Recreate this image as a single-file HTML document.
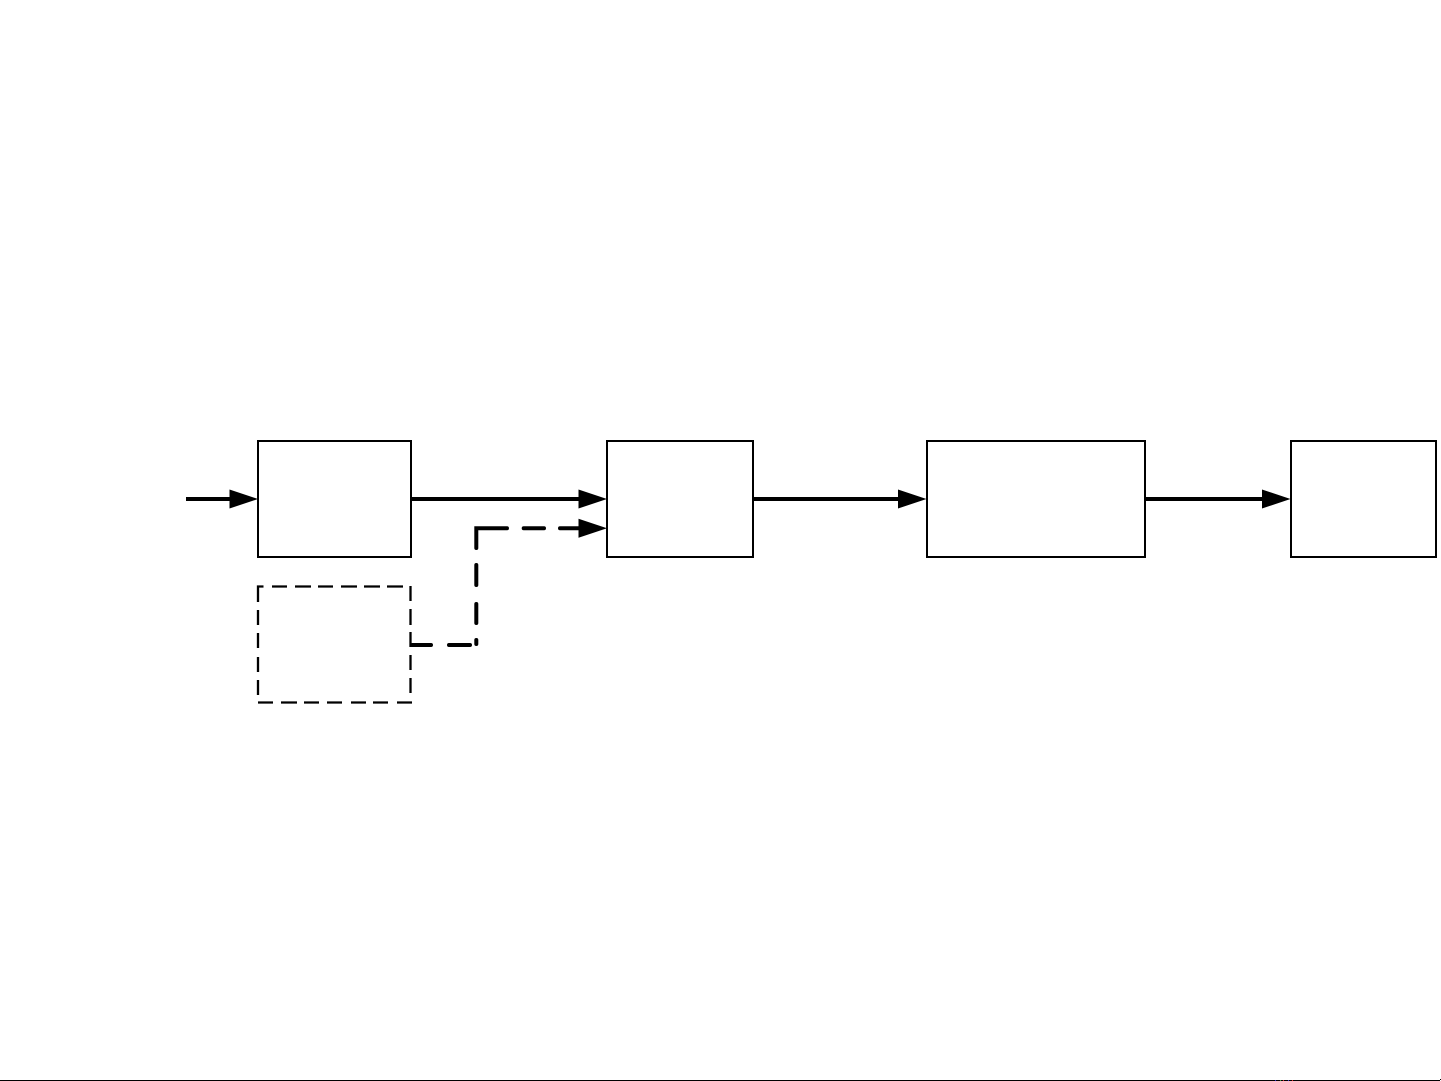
<!DOCTYPE html>
<html>
<head>
<meta charset="utf-8">
<style>
html,body{margin:0;padding:0;background:#fff;width:1441px;height:1081px;overflow:hidden}
svg{display:block}
</style>
</head>
<body>
<svg width="1441" height="1081" viewBox="0 0 1441 1081" xmlns="http://www.w3.org/2000/svg">
<rect width="1441" height="1081" fill="#fff"/>
<g fill="#fff" stroke="#000" stroke-width="2">
<rect x="258" y="441" width="153" height="116"/>
<rect x="607" y="441" width="146" height="116"/>
<rect x="927" y="441" width="218" height="116"/>
<rect x="1291" y="441" width="145" height="116"/>
</g>
<g stroke="#000" stroke-width="4" fill="none">
<line x1="186" y1="499" x2="232" y2="499"/>
<line x1="412" y1="499" x2="581" y2="499"/>
<line x1="754" y1="499" x2="900" y2="499"/>
<line x1="1146" y1="499" x2="1264" y2="499"/>
</g>
<g fill="#000">
<polygon points="229.5,489.5 258,499 229.5,508.5"/>
<polygon points="578.5,489.5 607,499 578.5,508.5"/>
<polygon points="898,489.5 926.5,499 898,508.5"/>
<polygon points="1262,489.5 1290.5,499 1262,508.5"/>
<polygon points="578.5,518.7 607,528.2 578.5,537.7"/>
</g>
<g stroke="#000" stroke-width="2.3" fill="none">
<path d="M258 602V586.5H263.5"/>
<path d="M272 586.5H287M295 586.5H311M318 586.5H333M341 586.5H357M364 586.5H380M387 586.5H403"/>
<path d="M258 610V625M258 633V648M258 657V672M258 680V695"/>
<path d="M410.5 586V601M410.5 609V625M410.5 632V647M410.5 655V670M410.5 678V693"/>
<path d="M258 702.5H273M281 702.5H297M304 702.5H319M327 702.5H342M351 702.5H366M373 702.5H388M397 702.5H412"/>
</g>
<g stroke="#000" stroke-width="4" fill="none" stroke-linecap="round" stroke-linejoin="miter">
<path d="M476.3 548V528.3H507"/>
<path d="M523.7 528.3H544M560 528.3H581"/>
<path d="M476.3 565V585M476.3 604V623M476.3 640V644"/>
<path d="M412 645H431M449 645H470"/>
</g>
<rect x="0" y="1080" width="1440" height="1" fill="#000"/>
<rect x="1440" y="1079" width="1" height="1" fill="#000"/>
<g>
<rect x="1275" y="1080" width="1" height="1" fill="#2a2ad0"/>
<rect x="1280" y="1080" width="1" height="1" fill="#3a9a3a"/>
<rect x="1283" y="1080" width="1" height="1" fill="#d03030"/>
<rect x="1288" y="1080" width="1" height="1" fill="#3a3ad0"/>
<rect x="1292" y="1080" width="1" height="1" fill="#e02020"/>
</g>
</svg>
</body>
</html>
